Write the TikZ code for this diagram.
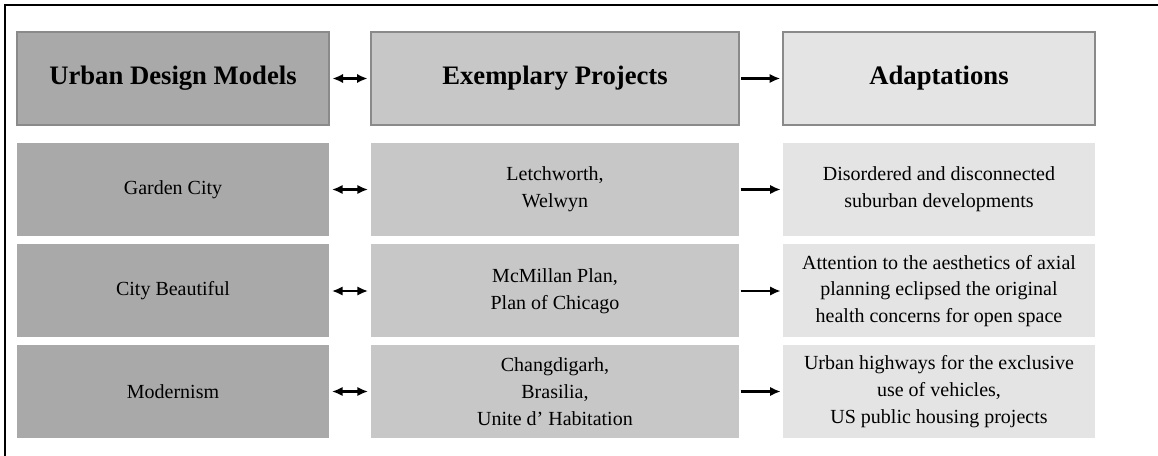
\documentclass[tikz,border=0pt]{standalone}
\usepackage{fontspec}
\setmainfont{Liberation Serif}
\usetikzlibrary{arrows.meta}
\definecolor{modelgray}{HTML}{A9A9A9}
\definecolor{projgray}{HTML}{C7C7C7}
\definecolor{adaptgray}{HTML}{E4E4E4}
\definecolor{edgegray}{HTML}{8A8A8A}
\begin{document}
\begin{tikzpicture}[x=0.75pt,y=-0.75pt,
        cell/.style={minimum height=69.75pt, inner sep=0pt, align=center, font=\fontsize{15}{20}\selectfont},
        head/.style={cell, draw=edgegray, line width=1pt, font=\fontsize{20}{24}\selectfont\bfseries},
        side/.style={minimum width=234pt},
        mid/.style={minimum width=276pt},
        twoway/.style={{Latex[length=8pt,width=7pt]}-{Latex[length=8pt,width=7pt]}, line width=1.6pt, shorten <=2pt, shorten >=2pt},
        oneway/.style={-{Latex[length=8pt,width=7pt]}, line width=1.6pt, shorten <=1pt, shorten >=1.5pt}]
        \useasboundingbox (0,0) rectangle (1158,456);
        \draw[line width=2.2pt] (1158,5) -- (5,5) -- (5,456);
        % headings
        \node [head, side, fill=modelgray] (M0) at (173,78.5) {Urban Design Models};
        \node [head, mid, fill=projgray] (P0) at (555,78.5) {Exemplary Projects};
        \node [head, side, fill=adaptgray] (A0) at (939,78.5) {Adaptations};
        % rows
        \node [cell, side, fill=modelgray] (M1) at (173,189.5) {Garden City};
        \node [cell, mid, fill=projgray] (P1) at (555,189.5) {Letchworth,\\Welwyn};
        \node [cell, side, fill=adaptgray] (A1) at (939,189.5) {Disordered and disconnected\\suburban developments};
        \node [cell, side, fill=modelgray] (M2) at (173,291) {City Beautiful};
        \node [cell, mid, fill=projgray] (P2) at (555,291) {McMillan Plan,\\Plan of Chicago};
        \node [cell, side, fill=adaptgray] (A2) at (939,291) {Attention to the aesthetics of axial\\planning eclipsed the original\\health concerns for open space};
        \node [cell, side, fill=modelgray] (M3) at (173,391.5) {Modernism};
        \node [cell, mid, fill=projgray] (P3) at (555,391.5) {Changdigarh,\\Brasilia,\\Unite d’ Habitation};
        \node [cell, side, fill=adaptgray] (A3) at (939,391.5) {Urban highways for the exclusive\\use of vehicles,\\US public housing projects};
        % arrows
        \draw [twoway] (M0) -- (P0);
        \draw [oneway] (P0) -- (A0);
        \draw [twoway] (M1) -- (P1);
        \draw [oneway] (P1) -- (A1);
        \draw [twoway] (M2) -- (P2);
        \draw [oneway] (P2) -- (A2);
        \draw [twoway] (M3) -- (P3);
        \draw [oneway] (P3) -- (A3);
    \end{tikzpicture}
\end{document}
